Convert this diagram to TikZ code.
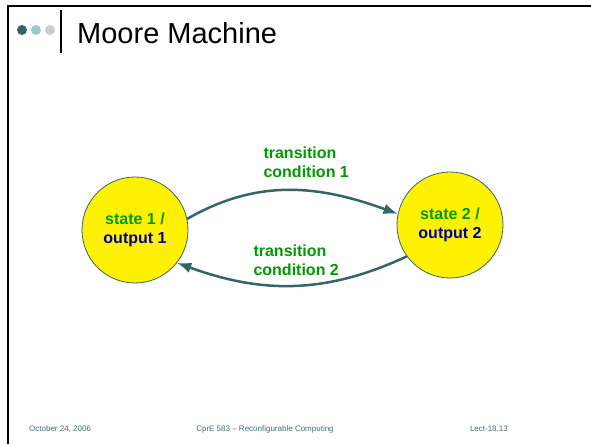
\documentclass[tikz,border=0pt]{standalone}
\usepackage{fontspec}
\setmainfont{Liberation Sans}
\usetikzlibrary{arrows.meta}
\definecolor{slideteal}{RGB}{51,102,102}
\definecolor{dotteal}{RGB}{153,204,204}
\definecolor{dotgray}{RGB}{204,204,204}
\definecolor{condgreen}{RGB}{0,153,0}
\definecolor{outblue}{RGB}{0,0,153}
\definecolor{foottext}{RGB}{64,112,112}

\begin{document}
\begin{tikzpicture}[x=1pt,y=1pt,>=Latex,
  moorestate/.style={circle,draw=slideteal,line width=0.8pt,fill=yellow,minimum size=106pt,inner sep=0pt,align=center,font=\fontsize{16}{19}\selectfont\bfseries},
  cond/.style={anchor=west,align=left,text=condgreen,font=\fontsize{16}{19}\selectfont\bfseries},
  trans/.style={->,draw=slideteal,line width=2.5pt},
  foot/.style={text=foottext,font=\fontsize{8}{10}\selectfont,inner sep=0pt}]
  \useasboundingbox (0,0) rectangle (591,444);
  \draw[line width=2pt] (8,0) -- (8,438) -- (591,438);
  \fill[slideteal] (22,414) circle (5);
  \fill[dotteal] (36,414) circle (5);
  \fill[dotgray] (50,414) circle (5);
  \draw[line width=2pt] (61,391) -- (61,434);
  \node[anchor=base west,inner sep=0pt,font=\fontsize{29}{34}\selectfont] (title) at (77,400) {Moore Machine};

  \node[moorestate] (s1) at (135,214) {\textcolor{condgreen}{state 1 /}\\\textcolor{outblue}{output 1}};
  \node[moorestate] (s2) at (450,219) {\textcolor{condgreen}{state 2 /}\\\textcolor{outblue}{output 2}};
  \draw[trans] (s1.12) to[out=30,in=160] (s2.168);
  \draw[trans] (s2.216) to[out=205,in=-20] (s1.322);
  \node[cond] (c1) at (260,282) {transition\\condition 1};
  \node[cond] (c2) at (250,184) {transition\\condition 2};

  \node[foot,anchor=west] (date) at (29,15) {October 24, 2006};
  \node[foot] (course) at (265,15) {CprE 583 -- Reconfigurable Computing};
  \node[foot,anchor=east] (lect) at (508,15) {Lect-18.13};
\end{tikzpicture}
\end{document}
